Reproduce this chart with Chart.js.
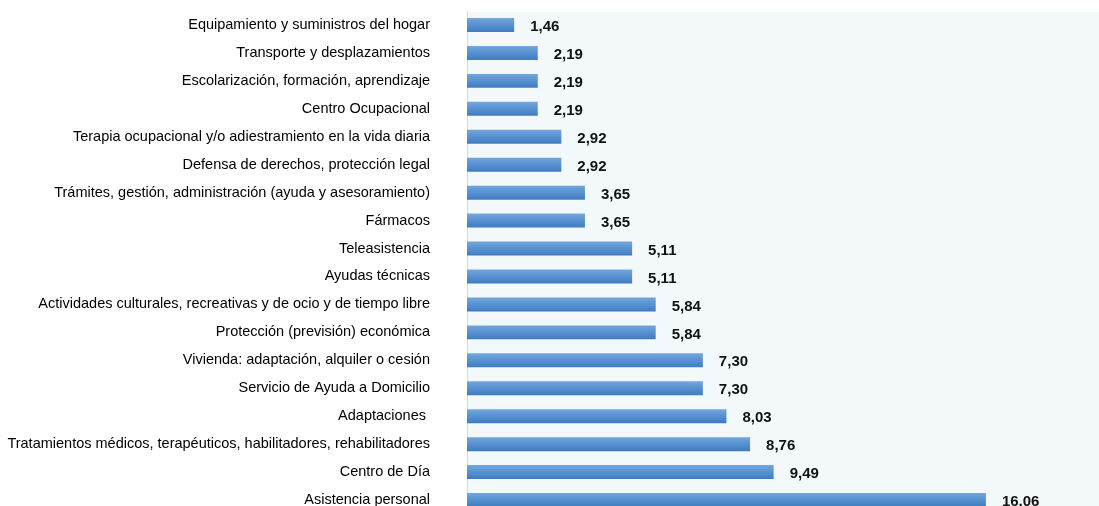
<!DOCTYPE html>
<html lang="es">
  <head>
    <meta charset="UTF-8" />
    <title>Servicios y prestaciones</title>
    <script src="https://cdn.jsdelivr.net/npm/chart.js"></script>
    <style>
      html, body { margin: 0; padding: 0; background: #fff; overflow: hidden; }
    </style>
  </head>
  <body>
    <canvas id="grafico" width="1099" height="514"></canvas>

    <script>
      // categorías (de arriba abajo) y porcentajes
      const categorias = [
        "Equipamiento y suministros del hogar",
        "Transporte y desplazamientos",
        "Escolarización, formación, aprendizaje",
        "Centro Ocupacional",
        "Terapia ocupacional y/o adiestramiento en la vida diaria",
        "Defensa de derechos, protección legal",
        "Trámites, gestión, administración (ayuda y asesoramiento)",
        "Fármacos",
        "Teleasistencia",
        "Ayudas técnicas",
        "Actividades culturales, recreativas y de ocio y de tiempo libre",
        "Protección (previsión) económica",
        "Vivienda: adaptación, alquiler o cesión",
        "Servicio de Ayuda a Domicilio",
        "Adaptaciones ",
        "Tratamientos médicos, terapéuticos, habilitadores, rehabilitadores",
        "Centro de Día",
        "Asistencia personal",
      ];
      const porcentajes = [
        1.46, 2.19, 2.19, 2.19, 2.92, 2.92, 3.65, 3.65, 5.11, 5.11, 5.84, 5.84,
        7.3, 7.3, 8.03, 8.76, 9.49, 16.06,
      ];

      // fondo del área de trazado
      const fondoArea = {
        id: "fondoArea",
        beforeDraw(chart) {
          const { ctx, chartArea: a } = chart;
          ctx.save();
          ctx.fillStyle = "#f3f8fb";
          ctx.fillRect(a.left, a.top + 1, a.right - a.left, a.bottom - a.top);
          ctx.restore();
        },
      };

      // etiquetas de valor a la derecha de cada barra
      const etiquetasValor = {
        id: "etiquetasValor",
        afterDatasetsDraw(chart) {
          const ctx = chart.ctx;
          const meta = chart.getDatasetMeta(0);
          ctx.save();
          ctx.font = "bold 15px 'Liberation Sans', Arial, sans-serif";
          ctx.fillStyle = "#111";
          ctx.textAlign = "left";
          ctx.textBaseline = "middle";
          meta.data.forEach((bar, i) => {
            const txt = porcentajes[i].toFixed(2).replace(".", ",");
            ctx.fillText(txt, bar.x + 16, bar.y + 2);
          });
          ctx.restore();
        },
      };

      // degradado vertical por barra
      function colorBarra(c) {
        const chart = c.chart;
        if (!chart.chartArea || !chart.scales.y) return "#5592d4";
        const y = chart.scales.y.getPixelForValue(c.dataIndex);
        const g = chart.ctx.createLinearGradient(0, y - 7, 0, y + 7);
        g.addColorStop(0, "#72a6de");
        g.addColorStop(1, "#3d7cc2");
        return g;
      }

      const ctx = document.getElementById("grafico").getContext("2d");
      new Chart(ctx, {
        type: "bar",
        data: {
          labels: categorias,
          datasets: [
            {
              data: porcentajes,
              backgroundColor: colorBarra,
              borderWidth: 0,
              barPercentage: 0.5,
              categoryPercentage: 1,
            },
          ],
        },
        options: {
          indexAxis: "y",
          responsive: false,
          animation: false,
          layout: { padding: { top: 11, right: 0, bottom: 0, left: 0 } },
          plugins: {
            legend: { display: false },
            tooltip: { enabled: false },
          },
          scales: {
            x: {
              display: false,
              min: 0,
              max: 19.56,
            },
            y: {
              afterFit(scale) {
                scale.width = 467;
                scale.paddingTop = 0;
                scale.paddingBottom = 0;
              },
              grid: { display: false, drawTicks: false },
              border: { display: true, color: "#d9d9d9", width: 1 },
              ticks: {
                padding: 37,
                color: "#000",
                font: { family: "'Liberation Sans', Arial, sans-serif", size: 14.5 },
                autoSkip: false,
              },
            },
          },
        },
        plugins: [fondoArea, etiquetasValor],
      });
    </script>
  </body>
</html>
